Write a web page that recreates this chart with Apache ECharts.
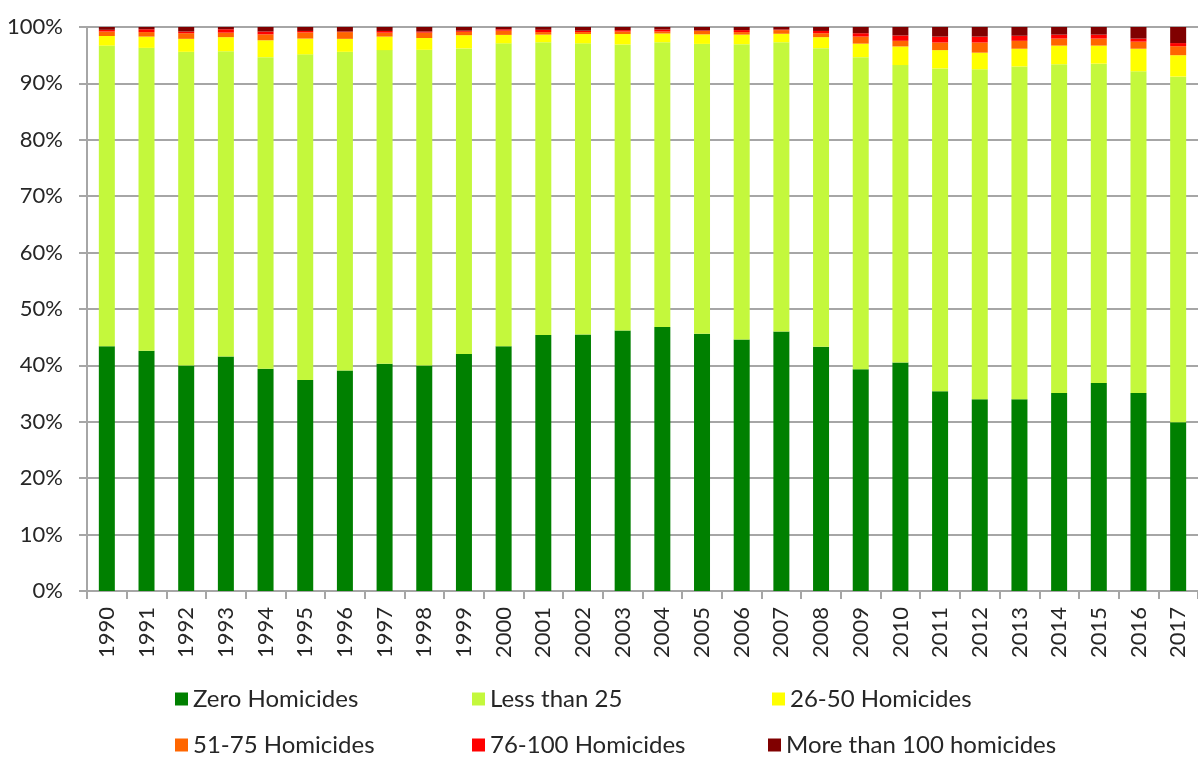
<!DOCTYPE html>
<html>
<head>
<meta charset="utf-8">
<title>Homicides share by year</title>
<script src="https://cdn.jsdelivr.net/npm/echarts@6/dist/echarts.min.js"></script>
<style>
  html, body { margin: 0; padding: 0; background: #fff; }
  #chart { width: 1198px; height: 757px; }
</style>
</head>
<body>
<div id="chart"></div>
<script>
// years on the x axis
const years = ['1990','1991','1992','1993','1994','1995','1996','1997','1998','1999',
  '2000','2001','2002','2003','2004','2005','2006','2007','2008','2009',
  '2010','2011','2012','2013','2014','2015','2016','2017']

// share of municipalities (%) per band
const zeroHom = [43.4, 42.6, 40.0, 41.6, 39.4, 37.4, 39.1, 40.3, 40.0, 42.0,
  43.4, 45.4, 45.5, 46.2, 46.8, 45.6, 44.6, 46.0, 43.3, 39.3,
  40.5, 35.4, 34.0, 34.0, 35.1, 36.9, 35.1, 29.9]
const lessThan25 = [53.3, 53.7, 55.6, 54.1, 55.25, 57.75, 56.5, 55.6, 55.95, 54.2,
  53.7, 51.9, 51.6, 50.7, 50.5, 51.4, 52.35, 51.3, 52.95, 55.35,
  52.75, 57.25, 58.5, 59.0, 58.3, 56.6, 57.05, 61.3]
const hom26to50 = [1.7, 2.0, 2.3, 2.5, 3.0, 2.8, 2.3, 2.4, 2.1, 2.35,
  1.5, 1.35, 1.65, 1.85, 1.55, 1.7, 1.7, 1.5, 1.95, 2.4,
  3.3, 3.25, 2.95, 3.15, 3.3, 3.2, 4.0, 3.8]
const hom51to75 = [0.8, 0.8, 1.0, 0.8, 1.05, 1.1, 1.2, 0.7, 0.95, 0.6,
  0.75, 0.45, 0.35, 0.45, 0.35, 0.6, 0.45, 0.65, 0.7, 1.25,
  1.0, 1.35, 1.8, 1.4, 1.25, 1.25, 1.25, 1.6]
const hom76to100 = [0.3, 0.5, 0.3, 0.6, 0.5, 0.25, 0.1, 0.3, 0.2, 0.2,
  0.25, 0.4, 0.25, 0.25, 0.35, 0.1, 0.35, 0.1, 0.4, 0.6,
  0.95, 1.05, 1.05, 0.9, 0.7, 0.7, 0.55, 0.55]
const homOver100 = [0.5, 0.4, 0.8, 0.4, 0.8, 0.7, 0.8, 0.7, 0.8, 0.65,
  0.4, 0.5, 0.65, 0.55, 0.45, 0.6, 0.55, 0.45, 0.7, 1.1,
  1.5, 1.7, 1.7, 1.55, 1.35, 1.35, 2.05, 2.85]

const names = ['Zero Homicides', 'Less than 25', '26-50 Homicides',
  '51-75 Homicides', '76-100 Homicides', 'More than 100 homicides']
const values = [zeroHom, lessThan25, hom26to50, hom51to75, hom76to100, homOver100]
const colors = ['#008000', '#c4f83c', '#ffff00', '#ff6600', '#ff0000', '#800000']

const font = 'Lato, "DejaVu Sans", sans-serif'
const textColor = '#262626'
const gray = '#a6a6a6'

// legend placement (Excel flows the items, so place each one)
const legendPos = [[175, 687], [472, 687], [772, 687], [175, 733], [472, 733], [768, 733]]

const series = names.map((name, i) => ({
  name: name,
  type: 'bar',
  stack: 'total',
  barWidth: 16,
  itemStyle: { color: colors[i] },
  data: values[i]
}))

const legends = names.map((name, i) => ({
  data: [name],
  left: legendPos[i][0],
  top: legendPos[i][1],
  padding: 0,
  icon: 'rect',
  itemWidth: 13,
  itemHeight: 13,
  itemGap: 0,
  textStyle: { fontFamily: font, fontSize: 24, color: textColor }
}))

const chart = echarts.init(document.getElementById('chart'))
chart.setOption({
  animation: false,
  backgroundColor: '#fff',
  grid: { left: 87, top: 27, width: 1120, height: 564, containLabel: false },
  legend: legends,
  xAxis: {
    type: 'category',
    data: years,
    axisLine: { lineStyle: { color: gray, width: 2 } },
    axisTick: { show: true, length: 8, lineStyle: { color: gray, width: 2 } },
    axisLabel: {
      rotate: 90,
      margin: 16,
      interval: 0,
      fontFamily: font,
      fontSize: 22,
      color: textColor
    }
  },
  yAxis: {
    type: 'value',
    min: 0,
    max: 100,
    interval: 10,
    axisLine: { show: true, lineStyle: { color: gray, width: 2 } },
    axisTick: { show: true, length: 8, lineStyle: { color: gray, width: 2 } },
    splitLine: { lineStyle: { color: gray, width: 2 } },
    axisLabel: {
      formatter: '{value}%',
      margin: 24,
      fontFamily: font,
      fontSize: 22,
      color: textColor
    }
  },
  series: series
})
</script>
</body>
</html>
